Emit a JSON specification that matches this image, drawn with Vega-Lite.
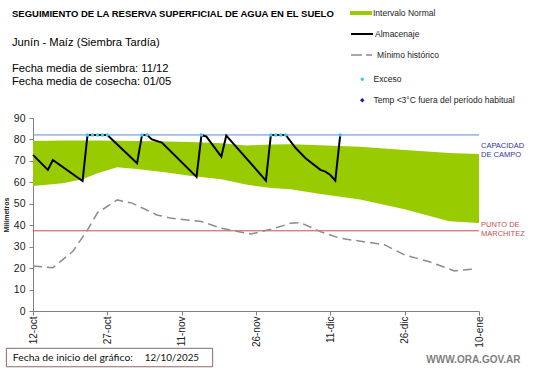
{
  "$schema": "https://vega.github.io/schema/vega-lite/v6.json",
  "width": 446,
  "height": 193,
  "autosize": {"type": "none"},
  "padding": {"left": 33, "top": 118, "right": 62, "bottom": 57},
  "background": "white",
  "config": {
    "view": {"stroke": null},
    "font": "Liberation Sans",
    "axisY": {
      "tickCount": 10,
      "labelFont": "Liberation Sans",
      "labelFontSize": 10.5,
      "labelColor": "#222222",
      "labelPadding": 4,
      "labelOverlap": false,
      "tickSize": 4,
      "tickColor": "#808080",
      "domainColor": "#808080",
      "grid": false
    }
  },
  "title": {
    "text": "SEGUIMIENTO DE LA RESERVA SUPERFICIAL DE AGUA EN EL SUELO",
    "subtitle": ["Junín - Maíz (Siembra Tardía)", "\u200b", "Fecha media de siembra: 11/12", "Fecha media de cosecha: 01/05"],
    "anchor": "start",
    "frame": "group",
    "orient": "top",
    "font": "Liberation Sans",
    "fontSize": 9.5,
    "fontWeight": "bold",
    "color": "black",
    "subtitleFont": "Liberation Sans",
    "subtitleFontSize": 11.2,
    "subtitleColor": "black",
    "subtitleLineHeight": 13,
    "subtitlePadding": 18.5,
    "dx": -21,
    "offset": -85.5
  },
  "datasets": {
    "band": [
      {"date": "2025-10-12", "lo": 58.3, "hi": 79.3},
      {"date": "2025-10-18", "lo": 59.6, "hi": 79.5},
      {"date": "2025-10-22", "lo": 61.4, "hi": 79.5},
      {"date": "2025-10-25", "lo": 64.2, "hi": 79.5},
      {"date": "2025-10-29", "lo": 67.0, "hi": 79.4},
      {"date": "2025-11-02", "lo": 66.2, "hi": 79.3},
      {"date": "2025-11-08", "lo": 64.6, "hi": 79.0},
      {"date": "2025-11-13", "lo": 63.0, "hi": 78.8},
      {"date": "2025-11-19", "lo": 61.4, "hi": 78.2},
      {"date": "2025-11-24", "lo": 59.0, "hi": 77.2},
      {"date": "2025-11-29", "lo": 57.3, "hi": 77.6},
      {"date": "2025-12-03", "lo": 56.8, "hi": 77.8},
      {"date": "2025-12-09", "lo": 54.6, "hi": 77.3},
      {"date": "2025-12-17", "lo": 52.0, "hi": 76.6},
      {"date": "2025-12-26", "lo": 47.4, "hi": 75.1},
      {"date": "2026-01-04", "lo": 41.8, "hi": 73.7},
      {"date": "2026-01-10", "lo": 41.0, "hi": 73.2}
    ],
    "minimo": [
      {"date": "2025-10-12", "v": 21.0},
      {"date": "2025-10-16", "v": 20.2},
      {"date": "2025-10-20", "v": 27.7},
      {"date": "2025-10-23", "v": 37.8},
      {"date": "2025-10-25", "v": 45.8},
      {"date": "2025-10-29", "v": 51.8},
      {"date": "2025-11-01", "v": 50.3},
      {"date": "2025-11-06", "v": 44.8},
      {"date": "2025-11-09", "v": 43.2},
      {"date": "2025-11-15", "v": 41.7},
      {"date": "2025-11-19", "v": 38.6},
      {"date": "2025-11-25", "v": 35.9},
      {"date": "2025-11-29", "v": 38.1},
      {"date": "2025-12-03", "v": 40.9},
      {"date": "2025-12-05", "v": 41.2},
      {"date": "2025-12-09", "v": 37.0},
      {"date": "2025-12-13", "v": 33.9},
      {"date": "2025-12-19", "v": 31.9},
      {"date": "2025-12-22", "v": 30.8},
      {"date": "2025-12-26", "v": 26.1},
      {"date": "2025-12-31", "v": 23.0},
      {"date": "2026-01-05", "v": 18.7},
      {"date": "2026-01-09", "v": 19.6}
    ],
    "almacenaje": [
      {"date": "2025-10-12", "v": 72.8},
      {"date": "2025-10-15", "v": 65.8},
      {"date": "2025-10-16", "v": 70.4},
      {"date": "2025-10-22", "v": 60.6},
      {"date": "2025-10-23", "v": 82.1},
      {"date": "2025-10-27", "v": 82.1},
      {"date": "2025-11-02", "v": 68.9},
      {"date": "2025-11-03", "v": 82.1},
      {"date": "2025-11-04", "v": 82.1},
      {"date": "2025-11-05", "v": 80.0},
      {"date": "2025-11-07", "v": 78.5},
      {"date": "2025-11-14", "v": 62.5},
      {"date": "2025-11-15", "v": 82.1},
      {"date": "2025-11-16", "v": 81.3},
      {"date": "2025-11-19", "v": 72.0},
      {"date": "2025-11-20", "v": 81.8},
      {"date": "2025-11-28", "v": 60.8},
      {"date": "2025-11-29", "v": 82.1},
      {"date": "2025-12-02", "v": 82.1},
      {"date": "2025-12-04", "v": 76.0},
      {"date": "2025-12-06", "v": 71.2},
      {"date": "2025-12-09", "v": 65.8},
      {"date": "2025-12-10", "v": 65.0},
      {"date": "2025-12-11", "v": 63.4},
      {"date": "2025-12-12", "v": 60.8},
      {"date": "2025-12-13", "v": 82.1}
    ],
    "exceso": [
      {"date": "2025-10-23", "v": 82.1},
      {"date": "2025-10-24", "v": 82.1},
      {"date": "2025-10-25", "v": 82.1},
      {"date": "2025-10-26", "v": 82.1},
      {"date": "2025-10-27", "v": 82.1},
      {"date": "2025-11-03", "v": 82.1},
      {"date": "2025-11-04", "v": 82.1},
      {"date": "2025-11-15", "v": 82.1},
      {"date": "2025-11-29", "v": 82.1},
      {"date": "2025-11-30", "v": 82.1},
      {"date": "2025-12-01", "v": 82.1},
      {"date": "2025-12-02", "v": 82.1},
      {"date": "2025-12-13", "v": 82.1}
    ]
  },
  "encoding": {
    "x": {
      "field": "date",
      "type": "temporal",
      "scale": {
        "type": "utc",
        "domain": [{"year": 2025, "month": 10, "date": 12, "utc": true}, {"year": 2026, "month": 1, "date": 10, "utc": true}],
        "nice": false
      },
      "axis": {
        "title": null,
        "values": [
          {"year": 2025, "month": 10, "date": 12, "utc": true},
          {"year": 2025, "month": 10, "date": 27, "utc": true},
          {"year": 2025, "month": 11, "date": 11, "utc": true},
          {"year": 2025, "month": 11, "date": 26, "utc": true},
          {"year": 2025, "month": 12, "date": 11, "utc": true},
          {"year": 2025, "month": 12, "date": 26, "utc": true},
          {"year": 2026, "month": 1, "date": 10, "utc": true}
        ],
        "labelExpr": "utcdate(datum.value) + '-' + ['ene','feb','mar','abr','may','jun','jul','ago','sep','oct','nov','dic'][utcmonth(datum.value)]",
        "labelAngle": -90,
        "labelFont": "Liberation Sans",
        "labelFontSize": 10,
        "labelColor": "#222222",
        "labelPadding": 1,
        "labelOverlap": false,
        "labelFlush": false,
        "tickSize": 4,
        "tickColor": "#808080",
        "domainColor": "#808080",
        "grid": false
      }
    }
  },
  "layer": [
    {
      "data": {"name": "band"},
      "mark": {"type": "area", "interpolate": "linear"},
      "encoding": {
        "y": {
          "field": "lo",
          "type": "quantitative",
          "scale": {"domain": [0, 90], "nice": false},
          "axis": {
            "title": "Milímetros",
            "titleFont": "Liberation Sans",
            "titleFontSize": 7,
            "titleFontWeight": "bold",
            "titleColor": "#222222",
            "titlePadding": 4,
            "values": [0, 10, 20, 30, 40, 50, 60, 70, 80, 90]
          }
        },
        "y2": {"field": "hi"},
        "color": {
          "datum": "Intervalo Normal",
          "scale": {"range": ["#99cc00"]},
          "legend": {
            "orient": "none", "legendX": 317, "legendY": -116, "title": null, "padding": 0,
            "symbolType": "M-1,-0.18H1V0.18H-1Z", "symbolSize": 484, "symbolStrokeWidth": 0,
            "labelFont": "Liberation Sans", "labelFontSize": 8.5, "labelColor": "#222222", "labelOffset": 1
          }
        }
      }
    },
    {
      "data": {"values": [{"date": "2025-10-12", "date2": "2026-01-10", "v": 37.4}]},
      "mark": {"type": "rule", "color": "#c0504d", "strokeWidth": 1},
      "encoding": {"x2": {"field": "date2"}, "y": {"field": "v", "type": "quantitative"}}
    },
    {
      "data": {"values": [{"date": "2025-10-12", "date2": "2026-01-10", "v": 82.1}]},
      "mark": {"type": "rule", "color": "#5b8bd0", "strokeWidth": 1},
      "encoding": {"x2": {"field": "date2"}, "y": {"field": "v", "type": "quantitative"}}
    },
    {
      "data": {"name": "minimo"},
      "mark": {"type": "line", "strokeWidth": 1.5, "strokeDash": [9, 5]},
      "encoding": {
        "y": {"field": "v", "type": "quantitative"},
        "color": {
          "datum": "Mínimo histórico",
          "scale": {"range": ["#8c8c8c"]},
          "legend": {
            "orient": "none", "legendX": 317, "legendY": -76, "title": null, "padding": 0,
            "symbolType": "stroke", "symbolSize": 576, "symbolStrokeWidth": 1.5, "symbolDash": [11, 4, 6, 50],
            "labelFont": "Liberation Sans", "labelFontSize": 8.5, "labelColor": "#222222", "labelOffset": 1
          }
        }
      }
    },
    {
      "data": {"name": "almacenaje"},
      "mark": {"type": "line", "strokeWidth": 2},
      "encoding": {
        "y": {"field": "v", "type": "quantitative"},
        "color": {
          "datum": "Almacenaje",
          "scale": {"range": ["#000000"]},
          "legend": {
            "orient": "none", "legendX": 317, "legendY": -96, "title": null, "padding": 0,
            "symbolType": "stroke", "symbolSize": 484, "symbolStrokeWidth": 2,
            "labelFont": "Liberation Sans", "labelFontSize": 8.5, "labelColor": "#222222", "labelOffset": 1
          }
        }
      }
    },
    {
      "data": {"name": "exceso"},
      "mark": {"type": "point", "filled": true, "shape": "circle", "size": 12, "opacity": 1},
      "encoding": {
        "y": {"field": "v", "type": "quantitative"},
        "color": {
          "datum": "Exceso",
          "scale": {"range": ["#3cc8f0"]},
          "legend": {
            "orient": "none", "legendX": 325, "legendY": -43, "title": null, "padding": 0,
            "symbolType": "circle", "symbolSize": 12, "symbolOpacity": 1,
            "labelFont": "Liberation Sans", "labelFontSize": 8.5, "labelColor": "#222222", "labelOffset": 7
          }
        }
      }
    },
    {
      "data": {"values": []},
      "mark": {"type": "point", "filled": true, "shape": "diamond", "size": 20, "opacity": 1},
      "encoding": {
        "y": {"field": "v", "type": "quantitative"},
        "color": {
          "datum": "Temp <3°C fuera del período habitual",
          "scale": {"range": ["#1a1aa6"]},
          "legend": {
            "orient": "none", "legendX": 325, "legendY": -22, "title": null, "padding": 0,
            "symbolType": "diamond", "symbolSize": 20, "symbolOpacity": 1,
            "labelFont": "Liberation Sans", "labelFontSize": 8.5, "labelColor": "#222222", "labelOffset": 7
          }
        }
      }
    },
    {
      "data": {"values": [{"date": "2026-01-10", "v": 82.1, "label": "CAPACIDAD\nDE CAMPO"}]},
      "mark": {"type": "text", "align": "left", "baseline": "alphabetic", "dx": 2, "dy": 13, "lineBreak": "\n", "lineHeight": 9.5, "fontSize": 7.5, "font": "Liberation Sans", "color": "#33339e"},
      "encoding": {"y": {"field": "v", "type": "quantitative"}, "text": {"field": "label"}}
    },
    {
      "data": {"values": [{"date": "2026-01-10", "v": 37.4, "label": "PUNTO DE\nMARCHITEZ"}]},
      "mark": {"type": "text", "align": "left", "baseline": "alphabetic", "dx": 2, "dy": -4, "lineBreak": "\n", "lineHeight": 9.5, "fontSize": 7.5, "font": "Liberation Sans", "color": "#c0504d"},
      "encoding": {"y": {"field": "v", "type": "quantitative"}, "text": {"field": "label"}}
    },
    {
      "data": {"values": [{"date": "2025-10-06T15:00:00Z", "date2": "2025-11-17T06:00:00Z", "v": -17.4, "v2": -26.0}]},
      "mark": {"type": "rect", "fill": "white", "stroke": "#8a6a6a", "strokeWidth": 1},
      "encoding": {"x2": {"field": "date2"}, "y": {"field": "v", "type": "quantitative"}, "y2": {"field": "v2"}}
    },
    {
      "data": {"values": [{"date": "2025-11-01T04:00:00Z", "v": -23.3, "label": "Fecha de inicio del gráfico:"}]},
      "mark": {"type": "text", "align": "right", "baseline": "alphabetic", "fontSize": 10.4, "font": "Lato", "color": "#111111"},
      "encoding": {"y": {"field": "v", "type": "quantitative"}, "text": {"field": "label"}}
    },
    {
      "data": {"values": [{"date": "2025-11-03T13:00:00Z", "v": -23.3, "label": "12/10/2025"}]},
      "mark": {"type": "text", "align": "left", "baseline": "alphabetic", "fontSize": 9.8, "font": "Lato", "color": "#111111"},
      "encoding": {"y": {"field": "v", "type": "quantitative"}, "text": {"field": "label"}}
    },
    {
      "data": {"values": [{"date": "2025-12-30T09:00:00Z", "v": -24.3, "label": "WWW.ORA.GOV.AR"}]},
      "mark": {"type": "text", "align": "left", "baseline": "alphabetic", "fontSize": 10, "fontWeight": "bold", "font": "Liberation Sans", "color": "#7f7f7f"},
      "encoding": {"y": {"field": "v", "type": "quantitative"}, "text": {"field": "label"}}
    }
  ],
  "resolve": {"scale": {"color": "independent"}}
}
